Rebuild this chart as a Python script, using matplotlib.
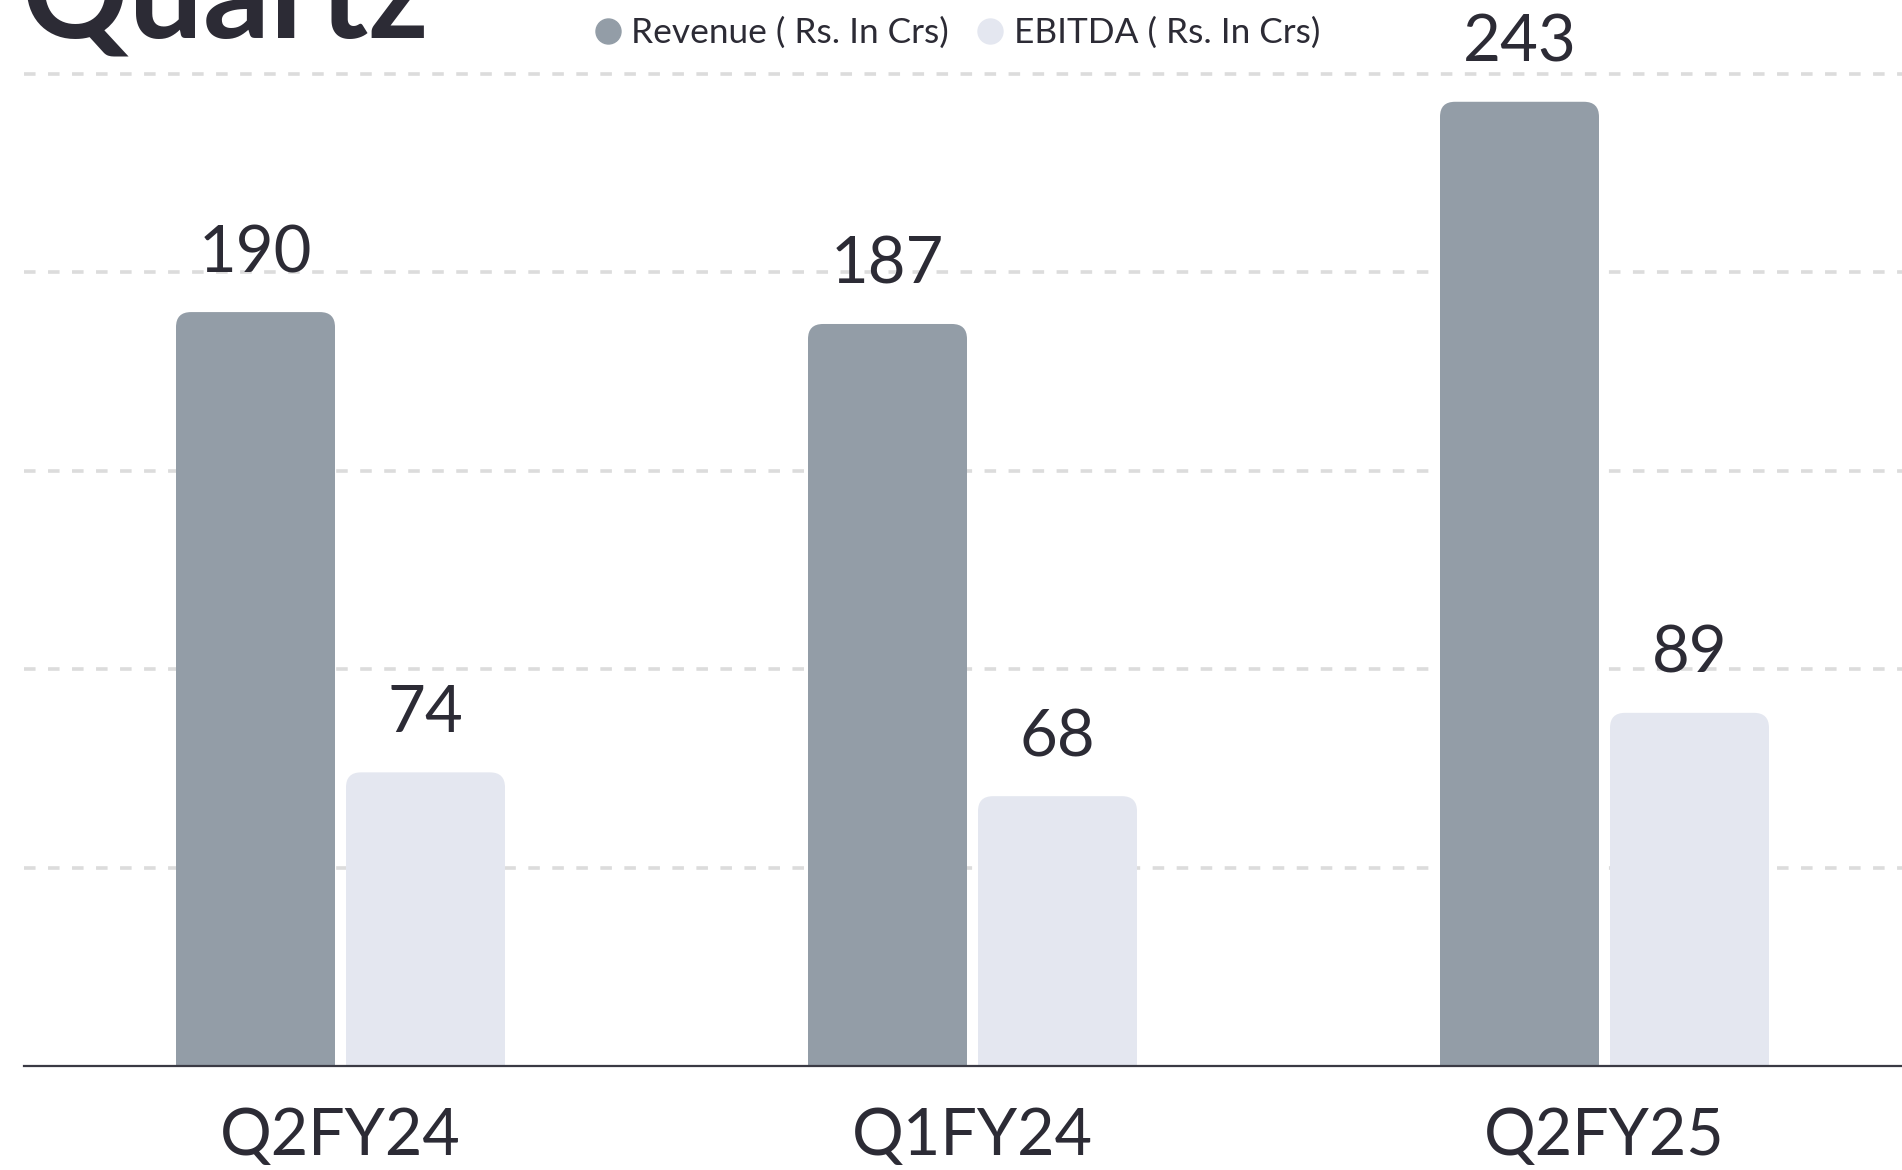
import numpy as np
import matplotlib
matplotlib.use("Agg")
import matplotlib.pyplot as plt
from matplotlib.patches import FancyBboxPatch
from matplotlib.lines import Line2D

# ---- data ----
categories = ["Q2FY24", "Q1FY24", "Q2FY25"]
revenue = [190, 187, 243]
ebitda = [74, 68, 89]
series_names = ["Revenue ( Rs. In Crs)", "EBITDA ( Rs. In Crs)"]
title = "Quartz"
grid_values = [50, 100, 150, 200, 250]

# ---- style ----
REV_COLOR = "#939da7"
EBITDA_COLOR = "#e4e7f0"
TEXT_COLOR = "#2c2b35"
GRID_COLOR = "#dcdcdc"
FONT = ["Lato", "DejaVu Sans"]

W, H, DPI = 1902, 1170, 100
fig = plt.figure(figsize=(W / DPI, H / DPI), dpi=DPI)
plt.rcParams["font.family"] = FONT

ax_left_px, ax_bottom_px = 24, 1066
ax = fig.add_axes([ax_left_px / W, (H - ax_bottom_px) / H, 1 - ax_left_px / W, ax_bottom_px / H])

px_per_x = 632.0
px_per_y = 3.968
x_left = -(340.5 - ax_left_px) / px_per_x
ax.set_xlim(x_left, x_left + (W - ax_left_px) / px_per_x)
ax.set_ylim(0, ax_bottom_px / px_per_y)

x = np.arange(len(categories))
bw = 159 / px_per_x
off = 85 / px_per_x

# gridlines (dashes given in multiples of linewidth)
for gv in grid_values:
    ax.axhline(gv, color=GRID_COLOR, lw=2.6, dashes=(3.2, 3.45), zorder=0.5,
               dash_capstyle="butt")

rx = 15 / px_per_x
ry = 15 / px_per_y

def rounded_bars(xs, vals, color):
    bars = ax.bar(xs, vals, width=bw, color=color, zorder=2)
    for rect in bars:
        bx, bwid, bh = rect.get_x(), rect.get_width(), rect.get_height()
        rect.set_visible(False)
        p = FancyBboxPatch((bx, -ry), bwid, bh + ry,
                           boxstyle=f"round,pad=0,rounding_size={rx}",
                           mutation_aspect=ry / rx, facecolor=color,
                           edgecolor="none", zorder=2)
        ax.add_patch(p)
        ax.annotate(f"{bh:g}", (bx + bwid / 2, bh), xytext=(0, 40 * 72 / DPI),
                    textcoords="offset points", ha="center", va="baseline",
                    fontsize=47, color=TEXT_COLOR, fontfamily=FONT, zorder=3)
    return bars

rounded_bars(x - off, revenue, REV_COLOR)
rounded_bars(x + off, ebitda, EBITDA_COLOR)

# axes styling
for s in ["top", "right", "left"]:
    ax.spines[s].set_visible(False)
ax.spines["bottom"].set_color("#3a3a44")
ax.spines["bottom"].set_linewidth(1.6)
ax.spines["bottom"].set_zorder(5)
ax.set_yticks([])
ax.set_xticks(x)
ax.set_xticklabels(categories, fontsize=46.5, color=TEXT_COLOR, fontfamily=FONT)
ax.tick_params(axis="x", length=0, pad=29.5)
ax.patch.set_alpha(0)

# title (cropped at top, as in the reference)
fig.text(22 / W, 1 - 37 / H, title, fontsize=95, fontweight="bold",
         color=TEXT_COLOR, fontfamily=FONT, ha="left", va="baseline")

# legend (manual)
legend_items = [(607.5, 631, REV_COLOR), (990, 1014, EBITDA_COLOR)]
for (cx, tx, col), name in zip(legend_items, series_names):
    fig.add_artist(Line2D([cx / W], [1 - 31 / H], marker="o", markersize=18,
                          color=col, linestyle="", transform=fig.transFigure))
    fig.text(tx / W, 1 - 43 / H, name, fontsize=25.4, color=TEXT_COLOR,
             fontfamily=FONT, ha="left", va="baseline")

fig.savefig("out.png", dpi=DPI)
